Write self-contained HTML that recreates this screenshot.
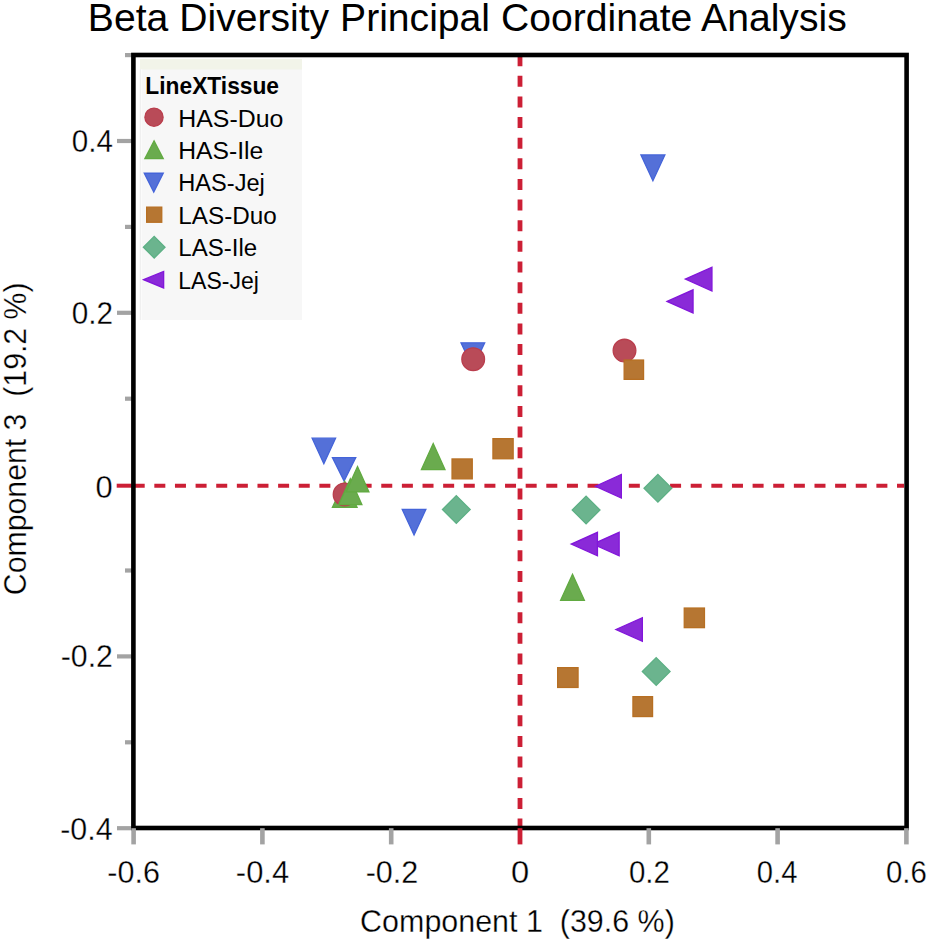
<!DOCTYPE html>
<html><head><meta charset="utf-8"><style>
html,body{margin:0;padding:0;background:#fff;width:930px;height:942px;overflow:hidden}
svg{display:block}
text{font-family:"Liberation Sans", sans-serif;fill:#000}
</style></head><body>
<svg width="930" height="942" viewBox="0 0 930 942">
<rect x="117" y="138.90" width="16" height="4.2" fill="#a3a3a3"/>
<rect x="117" y="310.70" width="16" height="4.2" fill="#a3a3a3"/>
<rect x="117" y="654.30" width="16" height="4.2" fill="#a3a3a3"/>
<rect x="117" y="826.10" width="16" height="4.2" fill="#a3a3a3"/>
<rect x="125" y="53.00" width="8" height="4.2" fill="#a3a3a3"/>
<rect x="125" y="224.80" width="8" height="4.2" fill="#a3a3a3"/>
<rect x="125" y="396.60" width="8" height="4.2" fill="#a3a3a3"/>
<rect x="125" y="568.40" width="8" height="4.2" fill="#a3a3a3"/>
<rect x="125" y="740.20" width="8" height="4.2" fill="#a3a3a3"/>
<rect x="140" y="59" width="162" height="261" fill="#f7f7f7"/>
<rect x="140" y="59" width="162" height="10.5" fill="#f2f4e9"/>
<rect x="139.8" y="69.5" width="1" height="250.5" fill="#ebebeb"/>
<rect x="140.8" y="69.5" width="1.4" height="250.5" fill="#fbfbfb"/>
<circle cx="154" cy="117.2" r="9.1" fill="#b94b58" stroke="#ba3e4d" stroke-width="1.3"/>
<polygon points="154.05,140.91 163.23,158.65 144.87,158.65" fill="#6aab4e" stroke="#61aa41" stroke-width="1.3"/>
<polygon points="144.26,173.25 163.24,173.25 153.75,191.96" fill="#5470d8" stroke="#4464d9" stroke-width="1.3"/>
<rect x="146.65" y="207.15" width="15.10" height="15.10" fill="#b67632" stroke="#b76f22" stroke-width="1.3"/>
<polygon points="154.20,236.37 165.03,247.20 154.20,258.03 143.37,247.20" fill="#6bb48e" stroke="#5db085" stroke-width="1.3"/>
<polygon points="143.61,279.70 163.65,271.47 163.65,287.93" fill="#8a2ad8" stroke="#8216da" stroke-width="1.3"/>
<line x1="133.7" y1="485.7" x2="904" y2="485.7" stroke="#cc1f35" stroke-width="4.0" stroke-dasharray="11 9.63"/>
<rect x="116.7" y="483.7" width="17" height="4.0" fill="#cc1f35"/>
<line x1="520" y1="55.2" x2="520" y2="826" stroke="#cc1f35" stroke-width="4.8" stroke-dasharray="11 9.63"/>
<polygon points="640.92,154.95 664.88,154.95 652.90,180.76" fill="#5470d8" stroke="#4464d9" stroke-width="1.3"/>
<polygon points="461.02,342.85 484.68,342.85 472.85,368.07" fill="#5470d8" stroke="#4464d9" stroke-width="1.3"/>
<polygon points="312.11,438.15 335.59,438.15 323.85,463.65" fill="#5470d8" stroke="#4464d9" stroke-width="1.3"/>
<polygon points="332.45,457.55 355.75,457.55 344.10,480.94" fill="#5470d8" stroke="#4464d9" stroke-width="1.3"/>
<polygon points="402.22,509.35 425.88,509.35 414.05,535.05" fill="#5470d8" stroke="#4464d9" stroke-width="1.3"/>
<polygon points="344.75,481.31 357.07,507.25 332.43,507.25" fill="#6aab4e" stroke="#61aa41" stroke-width="1.3"/>
<circle cx="473.2" cy="359.2" r="11.35" fill="#b94b58" stroke="#ba3e4d" stroke-width="1.3"/>
<circle cx="624.5" cy="350.6" r="11.35" fill="#b94b58" stroke="#ba3e4d" stroke-width="1.3"/>
<circle cx="344.6" cy="494.4" r="11.35" fill="#b94b58" stroke="#ba3e4d" stroke-width="1.3"/>
<polygon points="433.20,443.57 444.99,469.55 421.41,469.55" fill="#6aab4e" stroke="#61aa41" stroke-width="1.3"/>
<polygon points="572.50,574.36 584.39,600.35 560.61,600.35" fill="#6aab4e" stroke="#61aa41" stroke-width="1.3"/>
<polygon points="350.30,478.79 361.90,504.65 338.70,504.65" fill="#6aab4e" stroke="#61aa41" stroke-width="1.3"/>
<polygon points="357.50,466.49 368.90,491.95 346.10,491.95" fill="#6aab4e" stroke="#61aa41" stroke-width="1.3"/>
<rect x="624.15" y="360.04999999999995" width="19.40" height="19.30" fill="#b67632" stroke="#b76f22" stroke-width="1.3"/>
<rect x="452.04999999999995" y="458.95" width="20.20" height="19.90" fill="#b67632" stroke="#b76f22" stroke-width="1.3"/>
<rect x="492.95" y="438.65" width="20.20" height="20.10" fill="#b67632" stroke="#b76f22" stroke-width="1.3"/>
<rect x="684.25" y="608.05" width="20.20" height="19.60" fill="#b67632" stroke="#b76f22" stroke-width="1.3"/>
<rect x="557.65" y="667.65" width="20.40" height="19.80" fill="#b67632" stroke="#b76f22" stroke-width="1.3"/>
<rect x="632.9499999999999" y="696.65" width="19.60" height="19.90" fill="#b67632" stroke="#b76f22" stroke-width="1.3"/>
<polygon points="456.30,495.62 470.18,509.50 456.30,523.38 442.42,509.50" fill="#6bb48e" stroke="#5db085" stroke-width="1.3"/>
<polygon points="657.90,474.42 671.78,488.30 657.90,502.18 644.02,488.30" fill="#6bb48e" stroke="#5db085" stroke-width="1.3"/>
<polygon points="586.10,496.12 599.98,510.00 586.10,523.88 572.22,510.00" fill="#6bb48e" stroke="#5db085" stroke-width="1.3"/>
<polygon points="656.20,657.62 670.08,671.50 656.20,685.38 642.32,671.50" fill="#6bb48e" stroke="#5db085" stroke-width="1.3"/>
<polygon points="685.29,279.10 711.95,267.20 711.95,291.00" fill="#8a2ad8" stroke="#8216da" stroke-width="1.3"/>
<polygon points="667.09,301.40 693.05,289.80 693.05,313.00" fill="#8a2ad8" stroke="#8216da" stroke-width="1.3"/>
<polygon points="595.38,486.25 621.35,474.51 621.35,497.99" fill="#8a2ad8" stroke="#8216da" stroke-width="1.3"/>
<polygon points="592.80,544.05 619.15,532.30 619.15,555.80" fill="#8a2ad8" stroke="#8216da" stroke-width="1.3"/>
<polygon points="571.19,544.05 597.45,532.30 597.45,555.80" fill="#8a2ad8" stroke="#8216da" stroke-width="1.3"/>
<polygon points="615.90,629.50 642.35,617.70 642.35,641.30" fill="#8a2ad8" stroke="#8216da" stroke-width="1.3"/>
<rect x="133.4" y="55" width="773.2" height="773" fill="none" stroke="#000" stroke-width="4.6"/>
<rect x="131.30" y="828.2" width="4.6" height="16.2" fill="#a3a3a3"/>
<rect x="260.10" y="828.2" width="4.6" height="16.2" fill="#a3a3a3"/>
<rect x="388.90" y="828.2" width="4.6" height="16.2" fill="#a3a3a3"/>
<rect x="646.50" y="828.2" width="4.6" height="16.2" fill="#a3a3a3"/>
<rect x="775.30" y="828.2" width="4.6" height="16.2" fill="#a3a3a3"/>
<rect x="904.10" y="828.2" width="4.6" height="16.2" fill="#a3a3a3"/>
<rect x="517.6" y="828.2" width="4.8" height="16.2" fill="#cc1f35"/>
<text x="87.85" y="31.30" font-size="38.00" textLength="758.87" lengthAdjust="spacingAndGlyphs" xml:space="preserve">Beta Diversity Principal Coordinate Analysis</text>
<text x="71.68" y="152.41" font-size="30.80" stroke="#fff" stroke-width="0.3" textLength="41.18" lengthAdjust="spacingAndGlyphs" xml:space="preserve">0.4</text>
<text x="71.80" y="324.30" font-size="30.80" stroke="#fff" stroke-width="0.3" textLength="41.36" lengthAdjust="spacingAndGlyphs" xml:space="preserve">0.2</text>
<text x="95.62" y="498.00" font-size="30.80" stroke="#fff" stroke-width="0.3" textLength="17.17" lengthAdjust="spacingAndGlyphs" xml:space="preserve">0</text>
<text x="60.77" y="667.40" font-size="30.80" stroke="#fff" stroke-width="0.3" textLength="52.14" lengthAdjust="spacingAndGlyphs" xml:space="preserve">-0.2</text>
<text x="60.26" y="839.82" font-size="30.80" stroke="#fff" stroke-width="0.3" textLength="52.33" lengthAdjust="spacingAndGlyphs" xml:space="preserve">-0.4</text>
<text x="107.34" y="882.80" font-size="30.80" stroke="#fff" stroke-width="0.3" textLength="52.59" lengthAdjust="spacingAndGlyphs" xml:space="preserve">-0.6</text>
<text x="235.87" y="882.80" font-size="30.80" stroke="#fff" stroke-width="0.3" textLength="53.29" lengthAdjust="spacingAndGlyphs" xml:space="preserve">-0.4</text>
<text x="365.68" y="882.80" font-size="30.80" stroke="#fff" stroke-width="0.3" textLength="52.59" lengthAdjust="spacingAndGlyphs" xml:space="preserve">-0.2</text>
<text x="511.12" y="882.80" font-size="30.80" stroke="#fff" stroke-width="0.3" textLength="18.21" lengthAdjust="spacingAndGlyphs" xml:space="preserve">0</text>
<text x="628.95" y="882.80" font-size="30.80" stroke="#fff" stroke-width="0.3" textLength="40.99" lengthAdjust="spacingAndGlyphs" xml:space="preserve">0.2</text>
<text x="756.79" y="882.80" font-size="30.80" stroke="#fff" stroke-width="0.3" textLength="40.60" lengthAdjust="spacingAndGlyphs" xml:space="preserve">0.4</text>
<text x="885.97" y="882.80" font-size="30.80" stroke="#fff" stroke-width="0.3" textLength="40.87" lengthAdjust="spacingAndGlyphs" xml:space="preserve">0.6</text>
<text x="360.12" y="931.91" font-size="31.20" stroke="#fff" stroke-width="0.3" textLength="314.71" lengthAdjust="spacingAndGlyphs" xml:space="preserve">Component 1  (39.6 %)</text>
<text transform="translate(26.46,595.22) rotate(-90)" x="0" y="0" font-size="31.20" stroke="#fff" stroke-width="0.3" textLength="312.81" lengthAdjust="spacingAndGlyphs" xml:space="preserve">Component 3  (19.2 %)</text>
<text x="145.34" y="94.35" font-size="24.40" font-weight="bold" textLength="133.70" lengthAdjust="spacingAndGlyphs" xml:space="preserve">LineXTissue</text>
<text x="178.30" y="126.60" font-size="23.00" textLength="105.13" lengthAdjust="spacingAndGlyphs" xml:space="preserve">HAS-Duo</text>
<text x="178.30" y="158.80" font-size="23.00" textLength="85.03" lengthAdjust="spacingAndGlyphs" xml:space="preserve">HAS-Ile</text>
<text x="178.30" y="191.10" font-size="23.00" textLength="86.48" lengthAdjust="spacingAndGlyphs" xml:space="preserve">HAS-Jej</text>
<text x="178.30" y="224.10" font-size="23.00" textLength="98.39" lengthAdjust="spacingAndGlyphs" xml:space="preserve">LAS-Duo</text>
<text x="178.30" y="256.40" font-size="23.00" textLength="78.81" lengthAdjust="spacingAndGlyphs" xml:space="preserve">LAS-Ile</text>
<text x="178.30" y="288.60" font-size="23.00" textLength="80.54" lengthAdjust="spacingAndGlyphs" xml:space="preserve">LAS-Jej</text>
</svg>
</body></html>
